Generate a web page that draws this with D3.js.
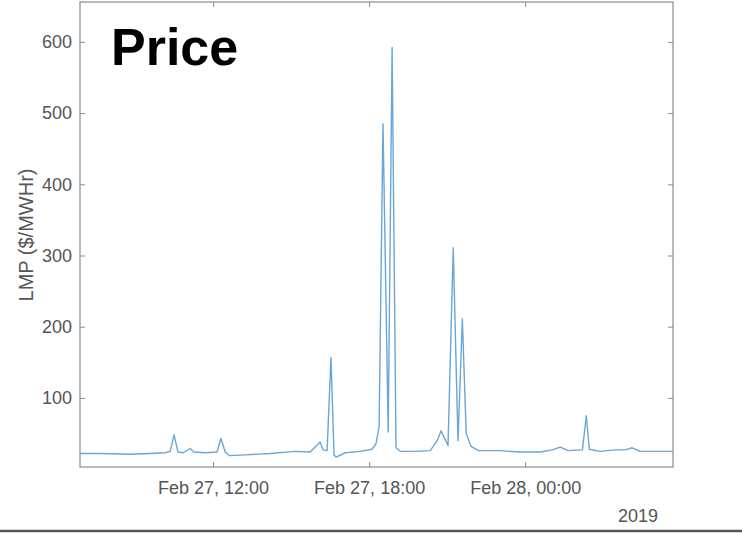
<!DOCTYPE html>
<html>
<head>
<meta charset="utf-8">
<script src="https://cdn.jsdelivr.net/npm/d3@7"></script>
<style>
  body { margin: 0; background: #fff; }
  svg { display: block; font-family: "Liberation Sans", Arial, Helvetica, sans-serif; }
  .axis text { fill: #555; font-size: 18px; }
  .axis line { stroke: #8c8c8c; }
  .axis path { display: none; }
</style>
</head>
<body>
<script>
var width = 742;
var height = 533;
var plot_left = 80, plot_right = 673, plot_top = 2, plot_bottom = 467;

// time stamps (Feb 27 -> Feb 28, 2019)
var times = [
    '2019-02-27T06:53', '2019-02-27T07:39', '2019-02-27T08:49', '2019-02-27T09:35',
    '2019-02-27T10:09', '2019-02-27T10:21', '2019-02-27T10:30', '2019-02-27T10:39',
    '2019-02-27T10:51', '2019-02-27T11:07', '2019-02-27T11:16', '2019-02-27T11:42',
    '2019-02-27T12:09', '2019-02-27T12:18', '2019-02-27T12:28', '2019-02-27T12:37',
    '2019-02-27T13:14', '2019-02-27T14:12', '2019-02-27T15:09', '2019-02-27T15:44',
    '2019-02-27T16:07', '2019-02-27T16:14', '2019-02-27T16:23', '2019-02-27T16:32',
    '2019-02-27T16:39', '2019-02-27T16:44', '2019-02-27T17:05', '2019-02-27T17:39',
    '2019-02-27T18:07', '2019-02-27T18:16', '2019-02-27T18:23', '2019-02-27T18:32',
    '2019-02-27T18:44', '2019-02-27T18:53', '2019-02-27T19:02', '2019-02-27T19:12',
    '2019-02-27T19:46', '2019-02-27T20:21', '2019-02-27T20:37', '2019-02-27T20:46',
    '2019-02-27T21:02', '2019-02-27T21:14', '2019-02-27T21:25', '2019-02-27T21:35',
    '2019-02-27T21:44', '2019-02-27T21:55', '2019-02-27T22:12', '2019-02-27T23:02',
    '2019-02-27T23:48', '2019-02-28T00:35', '2019-02-28T01:02', '2019-02-28T01:21',
    '2019-02-28T01:39', '2019-02-28T02:12', '2019-02-28T02:21', '2019-02-28T02:28',
    '2019-02-28T02:53', '2019-02-28T03:28', '2019-02-28T03:51', '2019-02-28T04:07',
    '2019-02-28T04:25', '2019-02-28T05:41'
];

// LMP in $/MWHr
var lmp = [
    22, 22, 21, 22,
    23, 25, 48, 24,
    23, 29, 24, 23,
    24, 43, 24, 19,
    20, 22, 25, 24,
    38, 27, 26, 157,
    20, 17, 23, 25,
    28, 36, 60, 485,
    52, 592, 30, 25,
    25, 26, 40, 54,
    33, 311, 40, 211,
    50, 32, 26, 26,
    24, 24, 27, 31,
    26, 27, 75, 28,
    25, 27, 27, 30,
    25, 25
];

var x_ticks = ['2019-02-27T12:00', '2019-02-27T18:00', '2019-02-28T00:00'];
var y_ticks = [100, 200, 300, 400, 500, 600];
var x_limits = ['2019-02-27T06:53', '2019-02-28T05:41'];
var y_limits = [3, 656];

var parse = d3.isoParse;
var data = times.map(function (t, i) {
    return {'t': parse(t), 'v': lmp[i]};
});

var x_scale = d3.scaleTime().domain(x_limits.map(parse)).range([plot_left, plot_right]);
var y_scale = d3.scaleLinear().domain(y_limits).range([plot_bottom, plot_top]);

var svg = d3.select('body').append('svg')
    .attr('width', width)
    .attr('height', height);

svg.append('rect')
    .attr('width', width)
    .attr('height', height)
    .attr('fill', '#fff');

// bottom axis with inward ticks
svg.append('g')
    .attr('class', 'x axis')
    .attr('transform', 'translate(0,' + plot_bottom + ')')
    .call(d3.axisBottom(x_scale)
        .tickValues(x_ticks.map(parse))
        .tickFormat(d3.timeFormat('%b %d, %H:%M'))
        .tickSizeInner(-5)
        .tickSizeOuter(0)
        .tickPadding(14));

// top mirror ticks
svg.append('g')
    .attr('class', 'axis')
    .attr('transform', 'translate(0,' + plot_top + ')')
    .call(d3.axisTop(x_scale)
        .tickValues(x_ticks.map(parse))
        .tickFormat('')
        .tickSizeInner(-5)
        .tickSizeOuter(0));

svg.append('g')
    .attr('class', 'y axis')
    .attr('transform', 'translate(' + plot_left + ',0)')
    .call(d3.axisLeft(y_scale)
        .tickValues(y_ticks)
        .tickSizeInner(-5)
        .tickSizeOuter(0)
        .tickPadding(8));

svg.append('g')
    .attr('class', 'axis')
    .attr('transform', 'translate(' + plot_right + ',0)')
    .call(d3.axisRight(y_scale)
        .tickValues(y_ticks)
        .tickFormat('')
        .tickSizeInner(-5)
        .tickSizeOuter(0));

// axes box
svg.append('rect')
    .attr('x', plot_left)
    .attr('y', plot_top)
    .attr('width', plot_right - plot_left)
    .attr('height', plot_bottom - plot_top)
    .attr('fill', 'none')
    .attr('stroke', '#8c8c8c')
    .attr('stroke-width', 1.2);

var line = d3.line()
    .x(function (d) { return x_scale(d.t); })
    .y(function (d) { return y_scale(d.v); });

svg.append('path')
    .datum(data)
    .attr('d', line)
    .attr('fill', 'none')
    .attr('stroke', '#6aa6d6')
    .attr('stroke-width', 1.4)
    .attr('stroke-linejoin', 'round');

// Axis labels
svg.append('text')
    .text('LMP ($/MWHr)')
    .attr('transform', 'translate(33,235) rotate(-90)')
    .attr('text-anchor', 'middle')
    .attr('font-size', 20)
    .attr('fill', '#555');

svg.append('text')
    .text('2019')
    .attr('x', 638)
    .attr('y', 522)
    .attr('text-anchor', 'middle')
    .attr('font-size', 18)
    .attr('fill', '#555');

svg.append('text')
    .text('Price')
    .attr('x', 111)
    .attr('y', 65)
    .attr('font-size', 52)
    .attr('font-weight', 'bold')
    .attr('fill', '#000');

// frame line along the bottom of the picture
svg.append('line')
    .attr('x1', 0)
    .attr('x2', width)
    .attr('y1', 531)
    .attr('y2', 531)
    .attr('stroke', '#555')
    .attr('stroke-width', 2.5);
</script>
</body>
</html>
